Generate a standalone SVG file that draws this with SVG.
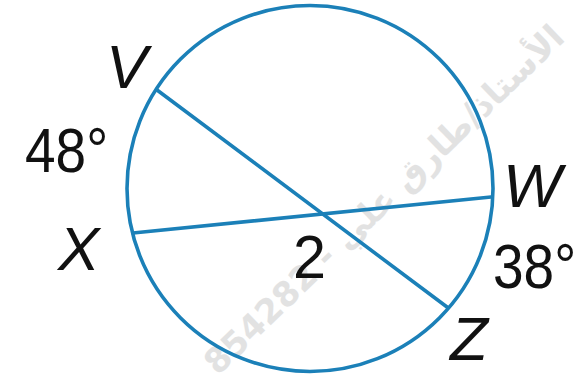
<svg xmlns="http://www.w3.org/2000/svg" width="582" height="382" viewBox="0 0 582 382">
<style>
.lbl{font-family:"Liberation Sans","Open Sans",sans-serif;font-size:62px;fill:#111}
.deg{font-family:"Liberation Sans","Open Sans",sans-serif;font-size:55px;fill:#111}
.it{font-style:italic}
.ln{stroke:#1b80b8;stroke-width:3.6;fill:none;stroke-linecap:round}
.wm{font-family:"DejaVu Sans",sans-serif;font-weight:bold;font-size:34px;fill:#dcdcdc;opacity:0.8}
</style>
<rect width="582" height="382" fill="#fff"/>
<text class="wm" direction="rtl" text-anchor="middle" transform="translate(392,208) rotate(-44)">الأستاذ/طارق علي - 854282</text>
<g id="circle"><circle class="ln" cx="310" cy="188.5" r="183"/></g>
<g id="connectors">
<line class="ln" x1="157" y1="90" x2="447" y2="307"/>
<line class="ln" x1="133" y1="233" x2="491" y2="197"/>
</g>
<g id="V"><text class="lbl it" x="106" y="88">V</text></g>
<g id="X"><text class="lbl it" x="58" y="270">X</text></g>
<g id="W"><text class="lbl it" x="503" y="207">W</text></g>
<g id="Z"><text class="lbl it" x="450" y="360">Z</text></g>
<g id="arc48"><text class="deg" transform="translate(25,172) scale(1,1.14)">48°</text></g>
<g id="arc38"><text class="deg" transform="translate(493,288) scale(1,1.14)">38°</text></g>
<g id="angle2"><text class="lbl" x="293" y="278" textLength="33" lengthAdjust="spacingAndGlyphs">2</text></g>
</svg>
